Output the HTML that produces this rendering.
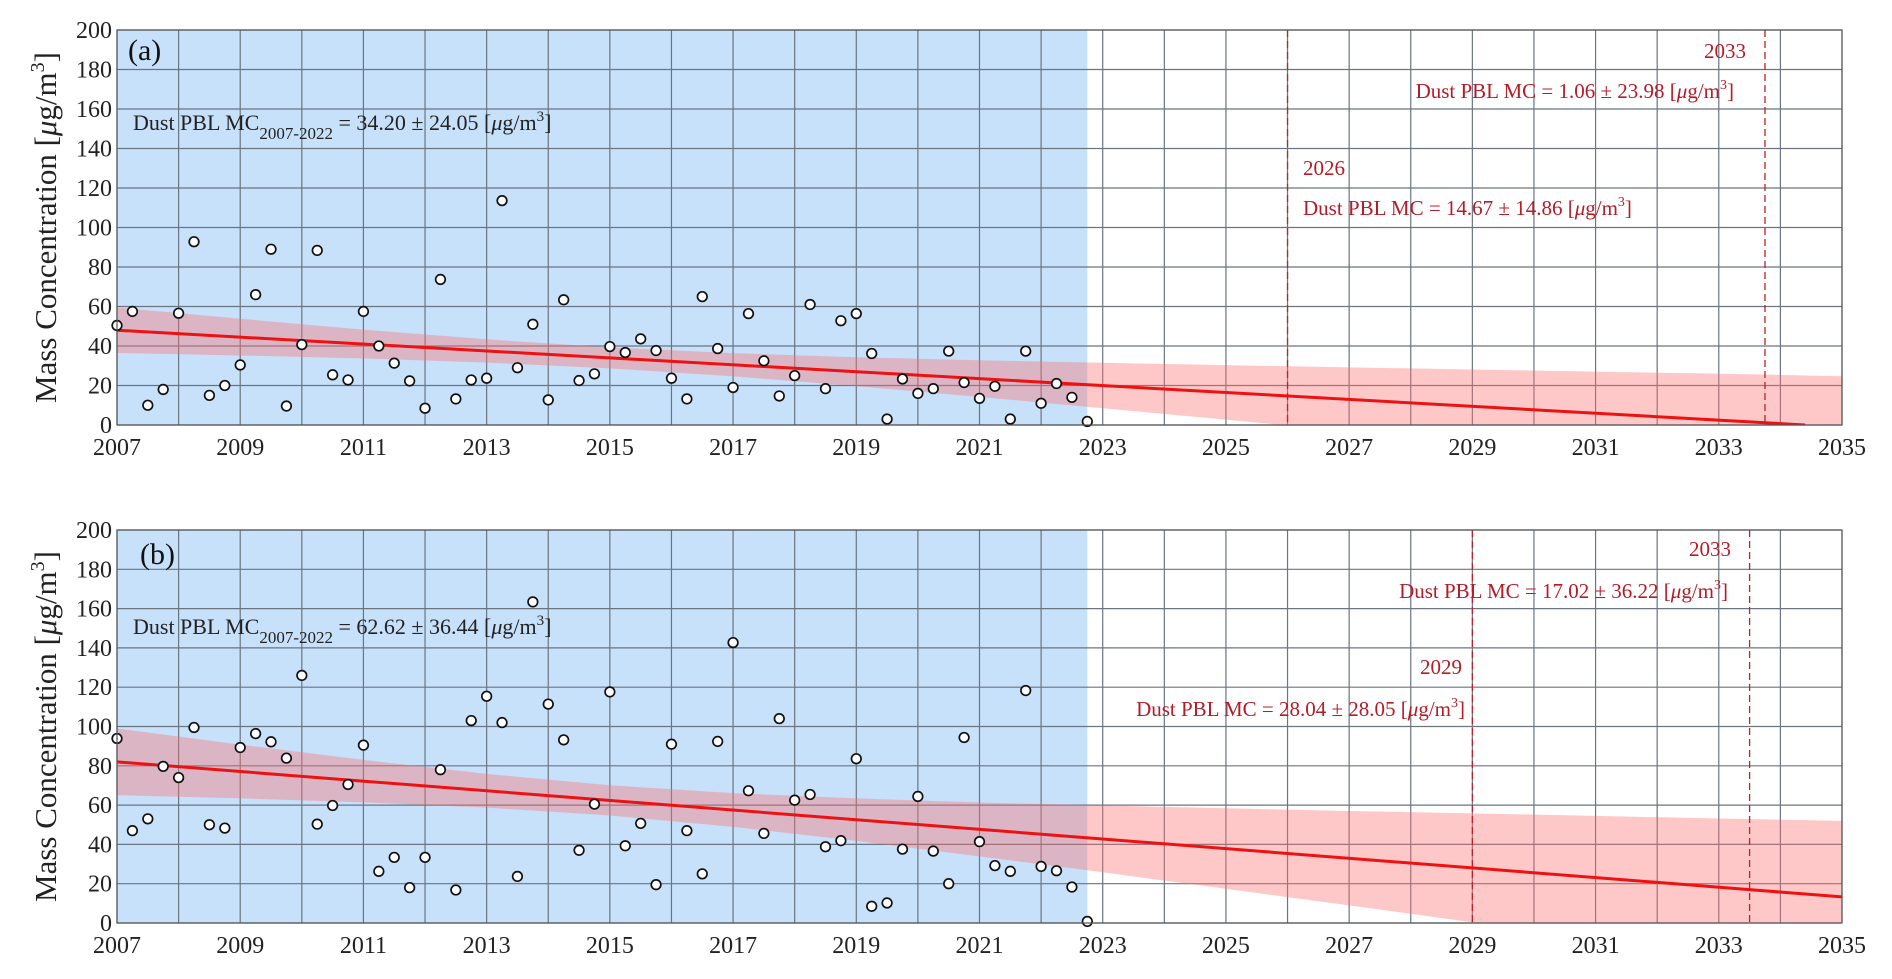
<!DOCTYPE html>
<html><head><meta charset="utf-8">
<style>
html,body{margin:0;padding:0;background:#fff;}
svg{display:block;font-family:"Liberation Serif",serif;}
</style></head>
<body>
<svg id="chart" width="1892" height="979" viewBox="0 0 1892 979" xmlns="http://www.w3.org/2000/svg">
<defs>
<clipPath id="clipA"><rect x="117" y="30" width="1725" height="395"/></clipPath>
<clipPath id="clipB"><rect x="117" y="530" width="1725" height="393"/></clipPath>
</defs>
</svg>
<script>
// ---- data ----
const quarters = [];
for (let y = 2007; y <= 2022; y++) for (let q = 0; q < 4; q++) quarters.push(y + q * 0.25);
const valuesA = [50.4,57.5,10,18,56.6,92.8,15,20,30.4,66,89,9.6,40.7,88.4,25.4,22.8,57.5,40,31.3,22.3,8.5,73.7,13.2,22.8,23.7,113.6,29,51,12.7,63.4,22.5,25.9,39.7,36.7,43.6,37.7,23.7,13.2,65,38.7,19,56.4,32.5,14.7,25,61,18.4,52.8,56.4,36.2,3,23.3,16,18.4,37.4,21.5,13.5,19.6,3,37.4,11,21,14,1.8];
const valuesB = [93.9,47,53,79.7,74,99.5,50,48.3,89.3,96.4,92.2,83.9,126,50.3,59.8,70.5,90.5,26.3,33.4,18,33.4,78,16.8,103,115.4,102,23.7,163.4,111.4,93.2,37,60.5,117.6,39.3,50.7,19.5,91,47,25,92.4,142.7,67.3,45.6,104,62.5,65.4,38.8,41.9,83.6,8.5,10.2,37.6,64.4,36.6,20,94.4,41.4,29.2,26.3,118.3,28.8,26.6,18.3,0.8];
const bandYears = [2007,2009,2011,2013,2015,2017,2019,2021,2023,2025,2027,2029,2031,2033,2035];
const bandLowA = [36.5,35.2,33.7,31.6,28.7,24.6,19.7,14.2,8.5,2.7,-3.2,-9.1,-15,-21,-26.8];
const bandHighA = [59.5,53.8,48.3,43.4,39.3,36.4,34.3,32.8,31.5,30.3,29.2,28.1,27,26,24.7];
const bandLowB = [65,63.4,61.4,58.7,54.7,48.9,41.8,33.9,25.8,17.4,9,0.4,-8.1,-16.8,-25.4];
const bandHighB = [99,90.8,83,75.9,70.1,66.1,63.4,61.3,59.8,58.4,57,55.8,54.5,53.2,52];
const trendYearsA = [2007, 2034.4];
const trendValsA = [48, 0];
const trendYearsB = [2007, 2035];
const trendValsB = [82, 13.3];
const xTickLabels = [2007,2009,2011,2013,2015,2017,2019,2021,2023,2025,2027,2029,2031,2033,2035];
const yTickLabels = [0,20,40,60,80,100,120,140,160,180,200];
const histEnd = 2022.75;

const NS = "http://www.w3.org/2000/svg";
const svg = document.getElementById('chart');
function el(tag, attrs, parent) {
  const e = document.createElementNS(NS, tag);
  for (const k in attrs) e.setAttribute(k, attrs[k]);
  (parent || svg).appendChild(e);
  return e;
}

function panel(cfg) {
  const L = 117, R = 1842, T = cfg.top, B = cfg.bottom;
  const xs = t => L + (t - 2007) / 28 * (R - L);
  const ys = v => B - v / 200 * (B - T);
  const g = el('g', {});
  
  
  const bg = el('rect', {x: L, y: T, width: xs(histEnd) - L, height: B - T, fill: '#c7e1fb'}, g);
  
  
  for (let yr = 2007; yr <= 2035; yr++) {
    const gl = el('line', {x1: xs(yr), x2: xs(yr), y1: T, y2: B, stroke: '#6a7580', 'stroke-width': 1.2}, g);
    
    
  }
  yTickLabels.forEach(v => {
    const gl = el('line', {x1: L, x2: R, y1: ys(v), y2: ys(v), stroke: '#6a7580', 'stroke-width': 1.2}, g);
    
    
  });
  const cg = el('g', {'clip-path': cfg.clip}, g);
  let d = '';
  bandYears.forEach((t, i) => { d += (i ? 'L' : 'M') + xs(t) + ',' + ys(cfg.high[i]); });
  for (let i = bandYears.length - 1; i >= 0; i--) d += 'L' + xs(bandYears[i]) + ',' + ys(cfg.low[i]);
  const band = el('path', {d: d + 'Z', fill: 'rgba(255,110,110,0.38)'}, cg);
  
  
  cfg.dashes.forEach(t => {
    const dl = el('line', {x1: xs(t), x2: xs(t), y1: T, y2: B, stroke: '#c0202a', 'stroke-width': 1.3, 'stroke-dasharray': '7,4'}, g);
    
    
  });
  const tl = el('line', {x1: xs(cfg.ty[0]), y1: ys(cfg.tv[0]), x2: xs(cfg.ty[1]), y2: ys(cfg.tv[1]), stroke: '#ee1111', 'stroke-width': 3}, cg);
  
  
  cfg.vals.forEach((v, i) => {
    const c = el('circle', {cx: xs(quarters[i]), cy: ys(v), r: 4.8, fill: '#fff', stroke: '#111', 'stroke-width': 1.7}, g);
    
    
  });
  const fr = el('rect', {x: L, y: T, width: R - L, height: B - T, fill: 'none', stroke: '#555', 'stroke-width': 1.2}, g);
  
  
  yTickLabels.forEach(v => {
    const t = el('text', {x: L - 5, y: ys(v) + 8, 'text-anchor': 'end', 'font-size': 24, fill: '#222'}, g);
    t.textContent = v;
    
    
  });
  xTickLabels.forEach(v => {
    const t = el('text', {x: xs(v), y: B + 30, 'text-anchor': 'middle', 'font-size': 24, fill: '#222'}, g);
    t.textContent = v;
    
    
  });
  const yt = el('text', {x: 0, y: 0, transform: 'translate(56,' + ((T + B) / 2) + ') rotate(-90)', 'text-anchor': 'middle', 'font-size': 31, fill: '#222'}, g);
  yt.innerHTML = 'Mass Concentration [<tspan font-style="italic">μ</tspan>g/m<tspan dy="-12" font-size="20">3</tspan><tspan dy="12">]</tspan>';
  
  
}

panel({name: 'panel-a', top: 30, bottom: 425, clip: 'url(#clipA)', vals: valuesA, low: bandLowA, high: bandHighA, ty: trendYearsA, tv: trendValsA, dashes: [2026, 2033.75]});
panel({name: 'panel-b', top: 530, bottom: 923, clip: 'url(#clipB)', vals: valuesB, low: bandLowB, high: bandHighB, ty: trendYearsB, tv: trendValsB, dashes: [2029, 2033.5]});
</script>
<svg width="1892" height="979" style="position:absolute;left:0;top:0" xmlns="http://www.w3.org/2000/svg">
<g font-family="Liberation Serif, serif">
<text x="128" y="60" font-size="30" fill="#111">(a)</text>
<text x="133" y="130" font-size="22" fill="#222">Dust PBL MC<tspan dy="9" font-size="17">2007-2022</tspan><tspan dy="-9"> = 34.20 ± 24.05 [</tspan><tspan font-style="italic">μ</tspan>g/m<tspan dy="-9" font-size="15">3</tspan><tspan dy="9">]</tspan></text>
<text x="1746" y="58" font-size="21" fill="#b51c28" text-anchor="end">2033</text>
<text x="1734" y="98" font-size="21" fill="#b51c28" text-anchor="end">Dust PBL MC = 1.06 ± 23.98 [<tspan font-style="italic">μ</tspan>g/m<tspan dy="-9" font-size="14">3</tspan><tspan dy="9">]</tspan></text>
<text x="1303" y="175" font-size="21" fill="#b51c28">2026</text>
<text x="1303" y="215" font-size="21" fill="#b51c28">Dust PBL MC = 14.67 ± 14.86 [<tspan font-style="italic">μ</tspan>g/m<tspan dy="-9" font-size="14">3</tspan><tspan dy="9">]</tspan></text>
<text x="140" y="564" font-size="30" fill="#111">(b)</text>
<text x="133" y="634" font-size="22" fill="#222">Dust PBL MC<tspan dy="9" font-size="17">2007-2022</tspan><tspan dy="-9"> = 62.62 ± 36.44 [</tspan><tspan font-style="italic">μ</tspan>g/m<tspan dy="-9" font-size="15">3</tspan><tspan dy="9">]</tspan></text>
<text x="1731" y="556" font-size="21" fill="#b51c28" text-anchor="end">2033</text>
<text x="1728" y="598" font-size="21" fill="#b51c28" text-anchor="end">Dust PBL MC = 17.02 ± 36.22 [<tspan font-style="italic">μ</tspan>g/m<tspan dy="-9" font-size="14">3</tspan><tspan dy="9">]</tspan></text>
<text x="1462" y="674" font-size="21" fill="#b51c28" text-anchor="end">2029</text>
<text x="1465" y="716" font-size="21" fill="#b51c28" text-anchor="end">Dust PBL MC = 28.04 ± 28.05 [<tspan font-style="italic">μ</tspan>g/m<tspan dy="-9" font-size="14">3</tspan><tspan dy="9">]</tspan></text>
</g>
</svg>
</body></html>
